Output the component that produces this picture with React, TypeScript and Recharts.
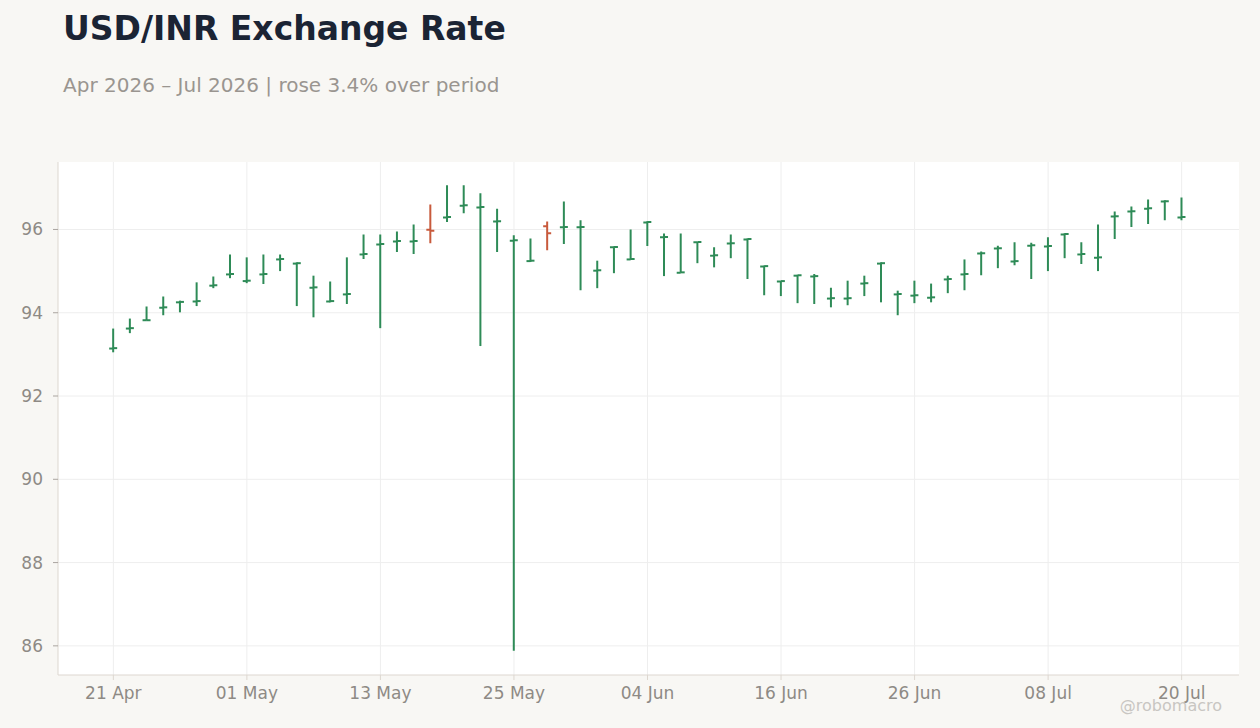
import React from 'react';
import { ComposedChart, Bar, XAxis, YAxis, CartesianGrid } from 'recharts';

const dates = [
  '21 Apr', '22 Apr', '23 Apr', '24 Apr', '27 Apr', '28 Apr', '29 Apr', '30 Apr',
  '01 May', '04 May', '05 May', '06 May', '07 May', '08 May', '11 May', '12 May',
  '13 May', '14 May', '15 May', '18 May', '19 May', '20 May', '21 May', '22 May',
  '25 May', '26 May', '27 May', '28 May', '29 May', '01 Jun', '02 Jun', '03 Jun',
  '04 Jun', '05 Jun', '08 Jun', '09 Jun', '10 Jun', '11 Jun', '12 Jun', '15 Jun',
  '16 Jun', '17 Jun', '18 Jun', '19 Jun', '22 Jun', '23 Jun', '24 Jun', '25 Jun',
  '26 Jun', '29 Jun', '30 Jun', '01 Jul', '02 Jul', '03 Jul', '06 Jul', '07 Jul',
  '08 Jul', '09 Jul', '10 Jul', '13 Jul', '14 Jul', '15 Jul', '16 Jul', '17 Jul',
  '20 Jul',
];

const opens = [
  93.14, 93.62, 93.82, 94.12, 94.25, 94.27, 94.65, 94.92,
  94.76, 94.92, 95.28, 95.18, 94.60, 94.27, 94.44, 95.40,
  95.64, 95.71, 95.71, 95.99, 96.29, 96.57, 96.53, 96.19,
  95.73, 95.24, 96.08, 96.05, 96.05, 95.01, 95.57, 95.28,
  96.17, 95.81, 94.96, 95.69, 95.37, 95.66, 95.76, 95.11,
  94.75, 94.89, 94.87, 94.34, 94.34, 94.70, 95.18, 94.44,
  94.41, 94.36, 94.80, 94.92, 95.42, 95.54, 95.23, 95.61,
  95.59, 95.88, 95.40, 95.32, 96.31, 96.43, 96.50, 96.67,
  96.29,
];

const highs = [
  93.62, 93.86, 94.15, 94.39, 94.29, 94.73, 94.87, 95.40,
  95.33, 95.40, 95.40, 95.21, 94.89, 94.75, 95.33, 95.88,
  95.88, 95.95, 96.12, 96.60, 97.06, 97.06, 96.87, 96.50,
  95.86, 95.78, 96.19, 96.67, 96.22, 95.25, 95.59, 96.00,
  96.20, 95.90, 95.90, 95.70, 95.57, 95.88, 95.78, 95.13,
  94.76, 94.91, 94.93, 94.60, 94.77, 94.89, 95.21, 94.53,
  94.77, 94.70, 94.89, 95.28, 95.47, 95.61, 95.69, 95.68,
  95.81, 95.91, 95.69, 96.12, 96.43, 96.55, 96.72, 96.70,
  96.77,
];

const lows = [
  93.05, 93.51, 93.81, 93.94, 94.01, 94.16, 94.59, 94.83,
  94.71, 94.69, 95.00, 94.16, 93.89, 94.25, 94.21, 95.29,
  93.63, 95.46, 95.41, 95.67, 96.18, 96.39, 93.20, 95.46,
  85.88, 95.22, 95.50, 95.65, 94.54, 94.59, 94.95, 95.27,
  95.60, 94.88, 94.96, 95.19, 95.09, 95.31, 94.81, 94.42,
  94.40, 94.23, 94.21, 94.13, 94.18, 94.40, 94.25, 93.94,
  94.23, 94.25, 94.47, 94.54, 94.90, 95.07, 95.14, 94.81,
  95.00, 95.31, 95.17, 95.00, 95.77, 96.06, 96.13, 96.22,
  96.22,
];

const closes = [
  93.15, 93.63, 93.82, 94.13, 94.26, 94.28, 94.66, 94.93,
  94.77, 94.93, 95.29, 95.19, 94.61, 94.28, 94.45, 95.41,
  95.65, 95.72, 95.72, 95.97, 96.30, 96.58, 96.54, 96.20,
  95.74, 95.25, 95.91, 96.06, 96.06, 95.02, 95.58, 95.29,
  96.18, 95.82, 94.97, 95.70, 95.38, 95.67, 95.77, 95.12,
  94.76, 94.90, 94.88, 94.35, 94.35, 94.71, 95.19, 94.45,
  94.42, 94.37, 94.81, 94.93, 95.43, 95.55, 95.24, 95.62,
  95.60, 95.89, 95.41, 95.33, 96.32, 96.44, 96.51, 96.68,
  96.30,
];

const yTicks = [86, 88, 90, 92, 94, 96];
const yDomain = [85.3, 97.62];

const UP = '#2e8b57';
const DOWN = '#c85a3c';
const FONT = '"DejaVu Sans", sans-serif';
const AXIS_TEXT = '#8e8a85';
const BORDER = '#ddd7d0';
const GRID = '#eeeeee';

const data = dates.map((d, i) => ({
  date: d,
  open: opens[i],
  high: highs[i],
  low: lows[i],
  close: closes[i],
  range: [lows[i], highs[i]],
}));

const OhlcShape = (props: any) => {
  const { x, y, width, height, payload } = props;
  if (!payload) return null;
  const { open, close, high, low } = payload;
  const top = Math.min(y, y + height);
  const h = Math.abs(height);
  const span = high - low;
  const yOf = (v: number) => (span === 0 ? top : top + ((high - v) / span) * h);
  const cx = x + width / 2;
  const color = close >= open ? UP : DOWN;
  const yo = yOf(open);
  const yc = yOf(close);
  return (
    <g>
      <line x1={cx} x2={cx} y1={top} y2={top + h} stroke={color} strokeWidth={2} />
      <line x1={cx - 4} x2={cx} y1={yo} y2={yo} stroke={color} strokeWidth={2} />
      <line x1={cx} x2={cx + 4} y1={yc} y2={yc} stroke={color} strokeWidth={2} />
    </g>
  );
};

export default function App() {
  return (
    <div
      style={{
        position: 'absolute',
        left: 0,
        top: 0,
        width: 1260,
        height: 728,
        background: '#f8f7f4',
        fontFamily: FONT,
      }}
    >
      <ComposedChart
        width={1260}
        height={728}
        data={data}
        margin={{ top: 162, right: 21, bottom: 23, left: 0 }}
      >
        <CartesianGrid stroke={GRID} fill="#ffffff" syncWithTicks />
        <XAxis
          dataKey="date"
          interval={7}
          padding={{ left: 47, right: 49 }}
          height={30}
          tickSize={5}
          tickMargin={7}
          tickLine={{ stroke: BORDER }}
          axisLine={{ stroke: BORDER }}
          tick={{ fill: AXIS_TEXT, fontSize: 17, fontFamily: FONT }}
        />
        <XAxis
          xAxisId="top"
          orientation="top"
          dataKey="date"
          height={0}
          tick={false}
          tickLine={false}
          axisLine={{ stroke: BORDER }}
        />
        <YAxis
          domain={yDomain}
          ticks={yTicks}
          type="number"
          allowDataOverflow
          width={58}
          tickSize={5}
          tickMargin={10}
          tickLine={{ stroke: '#aaa5a0' }}
          axisLine={{ stroke: BORDER }}
          tick={{ fill: AXIS_TEXT, fontSize: 17, fontFamily: FONT }}
        />
        <YAxis
          yAxisId="right"
          orientation="right"
          domain={yDomain}
          type="number"
          width={0}
          tick={false}
          tickLine={false}
          axisLine={{ stroke: BORDER }}
        />
        <Bar dataKey="range" shape={OhlcShape} isAnimationActive={false} />
      </ComposedChart>
      <svg
        width={1260}
        height={728}
        style={{ position: 'absolute', left: 0, top: 0, pointerEvents: 'none' }}
      >
        <text x={63} y={40} fontFamily={FONT} fontWeight="bold" fontSize={33} fill="#1b2434">
          USD/INR Exchange Rate
        </text>
        <text x={63} y={92} fontFamily={FONT} fontSize={20} fill="#9a9590">
          Apr 2026 – Jul 2026 | rose 3.4% over period
        </text>
        <text x={1222} y={711} textAnchor="end" fontFamily={FONT} fontSize={16} fill="#c8c6c2">
          @robomacro
        </text>
      </svg>
    </div>
  );
}
